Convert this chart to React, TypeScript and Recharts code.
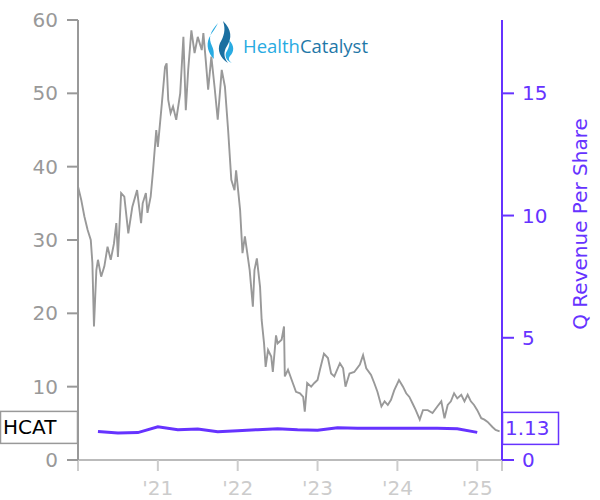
import { ComposedChart, Line, XAxis, YAxis, ReferenceLine } from 'recharts';

// price, decimal year -> close
const priceT = [
	2020.0, 2020.04, 2020.08, 2020.12, 2020.16, 2020.18, 2020.2, 2020.23, 2020.25, 2020.29,
	2020.33, 2020.37, 2020.41, 2020.45, 2020.48, 2020.5, 2020.54, 2020.58, 2020.63, 2020.68,
	2020.74, 2020.79, 2020.81, 2020.85, 2020.87, 2020.91, 2020.94, 2020.98, 2021.0, 2021.05,
	2021.09, 2021.11, 2021.13, 2021.16, 2021.19, 2021.23, 2021.28, 2021.32, 2021.35, 2021.38,
	2021.42, 2021.46, 2021.5, 2021.55, 2021.57, 2021.6, 2021.63, 2021.67, 2021.71, 2021.75,
	2021.8, 2021.84, 2021.88, 2021.92, 2021.96, 2021.98, 2022.03, 2022.06, 2022.09, 2022.12,
	2022.15, 2022.19, 2022.21, 2022.24, 2022.28, 2022.3, 2022.33, 2022.35, 2022.38, 2022.42,
	2022.44, 2022.48, 2022.5, 2022.55, 2022.58, 2022.59, 2022.63, 2022.69, 2022.73, 2022.78,
	2022.82, 2022.84, 2022.87, 2022.92, 2022.96, 2023.0, 2023.03, 2023.08, 2023.13, 2023.17,
	2023.21, 2023.28, 2023.32, 2023.35, 2023.4, 2023.46, 2023.53, 2023.57, 2023.61, 2023.67,
	2023.71, 2023.75, 2023.8, 2023.84, 2023.88, 2023.92, 2023.96, 2024.02, 2024.07, 2024.11,
	2024.15, 2024.19, 2024.23, 2024.28, 2024.32, 2024.38, 2024.44, 2024.5, 2024.55, 2024.59,
	2024.63, 2024.67, 2024.71, 2024.75, 2024.8, 2024.84, 2024.88, 2024.92, 2024.96, 2025.0,
	2025.05, 2025.09, 2025.13, 2025.19, 2025.23, 2025.28,
];
const priceV = [
	37.3, 35.5, 33.2, 31.4, 30.0, 26.9, 18.2, 25.9, 27.3, 25.0,
	26.4, 29.1, 27.3, 29.5, 32.3, 27.7, 36.4, 35.9, 30.9, 34.5,
	36.8, 32.3, 35.0, 36.4, 33.7, 35.9, 39.5, 45.0, 42.7, 48.6,
	53.6, 54.1, 49.1, 47.3, 48.2, 46.4, 50.0, 57.7, 47.7, 53.2,
	58.6, 55.5, 57.7, 55.9, 58.2, 54.5, 50.5, 55.0, 50.9, 46.4,
	53.2, 50.9, 45.0, 38.2, 36.8, 39.5, 34.1, 28.2, 30.5, 28.2,
	25.9, 20.9, 25.9, 27.5, 23.6, 19.1, 15.9, 12.7, 15.0, 14.1,
	12.0, 17.0, 15.9, 16.4, 18.2, 11.4, 12.3, 10.5, 9.3, 9.1,
	8.6, 6.6, 10.5, 10.0, 10.5, 10.9, 12.3, 14.5, 13.9, 11.8,
	11.4, 13.2, 12.5, 10.0, 11.8, 12.0, 13.0, 14.3, 12.5, 11.6,
	10.5, 9.3, 7.3, 8.0, 7.5, 8.2, 9.5, 10.9, 10.0, 9.1,
	8.6, 7.7, 6.8, 5.5, 6.8, 6.8, 6.4, 7.3, 8.0, 5.7,
	7.5, 8.0, 9.1, 8.4, 8.9, 8.0, 8.9, 8.0, 7.5, 6.8,
	5.7, 5.5, 5.2, 4.5, 4.1, 3.9,
];

// quarterly revenue per share
const revT = [
	2020.25, 2020.5, 2020.75, 2021.0, 2021.25, 2021.5, 2021.75, 2022.0, 2022.25, 2022.5,
	2022.75, 2023.0, 2023.25, 2023.5, 2023.75, 2024.0, 2024.25, 2024.5, 2024.75, 2025.0,
];
const revV = [
	1.17, 1.1, 1.12, 1.36, 1.24, 1.27, 1.16, 1.2, 1.24, 1.28,
	1.24, 1.22, 1.32, 1.3, 1.3, 1.3, 1.3, 1.3, 1.28, 1.13,
];

const xTicks = [2020, 2021, 2022, 2023, 2024, 2025, 2025.31];
const priceTicks = [0, 10, 20, 30, 40, 50, 60];
const revTicks = [0, 5, 10, 15];

const priceData = priceT.map((t, i) => ({ t, price: priceV[i] }));
const revData = revT.map((t, i) => ({ t, rev: revV[i] }));

const PURPLE = '#6633ff';
const FONT = 'DejaVu Sans';

const yearLabel = (v: number) =>
	Number.isInteger(v) && v > 2020 ? `'${String(v).slice(2)}` : '';

const TickerBox = (props: any) => {
	const y = props.viewBox.y - 4;
	return (
		<g>
			<rect x={0.5} y={y - 16} width={77} height={32} fill="#fff" stroke="#999" strokeWidth={1.5} />
			<text x={3} y={y + 7} fontSize={20} fontFamily={FONT} fill="#000">
				HCAT
			</text>
		</g>
	);
};

const ValueBox = (props: any) => {
	const y = props.viewBox.y - 4;
	return (
		<g>
			<rect x={502.5} y={y - 16} width={56} height={32} fill="#fff" stroke={PURPLE} strokeWidth={1.5} />
			<text x={505} y={y + 7} fontSize={20} fontFamily={FONT} fill={PURPLE}>
				{revV[revV.length - 1].toFixed(2)}
			</text>
		</g>
	);
};

export default function App() {
	return (
		<div style={{ position: 'absolute', left: 0, top: 0, width: 600, height: 500, background: '#fff' }}>
			<ComposedChart width={600} height={500} margin={{ top: 20, right: 0, bottom: 0, left: 0 }}>
				<XAxis
					type="number"
					dataKey="t"
					domain={[2020, 2025.31]}
					ticks={xTicks}
					tickFormatter={yearLabel}
					allowDataOverflow
					height={40}
					tickSize={11}
					tickMargin={10}
					axisLine={{ stroke: '#bbb', strokeWidth: 2 }}
					tickLine={{ stroke: '#ccc', strokeWidth: 2 }}
					tick={{ fill: '#ccc', fontSize: 20, fontFamily: FONT }}
				/>
				<YAxis
					yAxisId="left"
					domain={[0, 60]}
					ticks={priceTicks}
					width={78}
					tickSize={11}
					tickMargin={9}
					axisLine={{ stroke: '#999', strokeWidth: 2 }}
					tickLine={{ stroke: '#999', strokeWidth: 2 }}
					tick={{ fill: '#999', fontSize: 20, fontFamily: FONT }}
				/>
				<YAxis
					yAxisId="right"
					orientation="right"
					domain={[0, 18]}
					ticks={revTicks}
					width={98}
					tickSize={12}
					tickMargin={8}
					axisLine={{ stroke: PURPLE, strokeWidth: 2 }}
					tickLine={{ stroke: PURPLE, strokeWidth: 2 }}
					tick={{ fill: PURPLE, fontSize: 20, fontFamily: FONT }}
				/>
				<Line
					yAxisId="left"
					data={priceData}
					dataKey="price"
					type="linear"
					stroke="#999"
					strokeWidth={1.9}
					dot={false}
					isAnimationActive={false}
				/>
				<Line
					yAxisId="right"
					data={revData}
					dataKey="rev"
					type="linear"
					stroke={PURPLE}
					strokeWidth={3}
					dot={false}
					isAnimationActive={false}
				/>
				<ReferenceLine
					yAxisId="left"
					y={priceV[priceV.length - 1]}
					stroke="none"
					label={<TickerBox />}
				/>
				<ReferenceLine
					yAxisId="right"
					y={revV[revV.length - 1]}
					stroke="none"
					label={<ValueBox />}
				/>
			</ComposedChart>
			<svg
				width={600}
				height={500}
				style={{ position: 'absolute', left: 0, top: 0, pointerEvents: 'none' }}
			>
				<text
					transform="translate(587,224) rotate(-90)"
					textAnchor="middle"
					fontSize={20}
					fontFamily={FONT}
					fill={PURPLE}
				>
					Q Revenue Per Share
				</text>
				<path
					d="M218 23 C210 32 208 38 212 46 C215 52 213 56 214 59 C208 53 206 45 209 38 C212 32 216 28 218 23 Z"
					fill="#29abe2"
				/>
				<path
					d="M223 21 C232 30 232 38 227 46 C223 52 224 58 228 63 C220 58 217 50 220 43 C224 36 226 30 223 21 Z"
					fill="#1b6fa0"
				/>
				<path
					d="M229 40 C235 46 234 52 230 56 C228 59 229 61 232 63 C226 61 224 55 227 51 C229 47 230 44 229 40 Z"
					fill="#29abe2"
				/>
				<text x={243} y={53} fontSize={19} fontFamily="Open Sans" textLength={125} lengthAdjust="spacingAndGlyphs">
					<tspan fill="#29abe2">Health</tspan>
					<tspan fill="#1f78a8">Catalyst</tspan>
				</text>
			</svg>
		</div>
	);
}
